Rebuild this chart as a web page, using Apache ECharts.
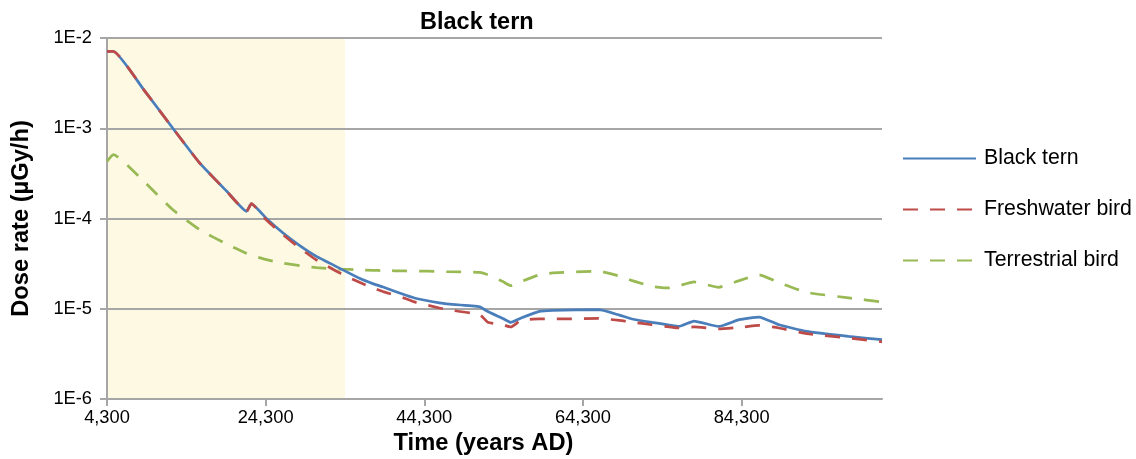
<!DOCTYPE html>
<html>
<head>
<meta charset="utf-8">
<script src="https://cdn.jsdelivr.net/npm/echarts@6/dist/echarts.min.js"></script>
<style>
  html, body { margin: 0; padding: 0; background: #ffffff; }
  #chart { width: 1136px; height: 459px; }
</style>
</head>
<body>
<div id="chart"></div>
<script>
// Sample times (years AD) shared by all three dose-rate series
const years = [4300, 5100, 8900, 12600, 16000, 19400, 21900, 22500, 24400, 26500,
  28600, 30700, 33600, 36200, 37800, 39100, 42000, 43300, 46200, 47100,
  51300, 52300, 54200, 55200, 56500, 58800, 60500, 66300, 68900, 70500,
  73000, 75200, 76400, 78300, 81400, 84000, 86500, 89000, 92500, 97800, 102000];

// Dose rates (µGy/h)
const blackTern = [7.1e-3, 7.1e-3, 2.7e-3, 1.0e-3, 4.1e-4, 2.0e-4, 1.2e-4, 1.46e-4, 1.0e-4, 6.9e-5,
  5.0e-5, 3.8e-5, 2.82e-5, 2.16e-5, 1.9e-5, 1.74e-5, 1.41e-5, 1.3e-5, 1.16e-5, 1.13e-5,
  1.05e-5, 9.3e-6, 7.8e-6, 7.06e-6, 7.9e-6, 9.35e-6, 9.6e-6, 9.75e-6, 8.5e-6, 7.7e-6,
  7.06e-6, 6.6e-6, 6.37e-6, 7.3e-6, 6.37e-6, 7.57e-6, 8.1e-6, 6.65e-6, 5.61e-6, 4.94e-6, 4.54e-6];

const freshwaterBird = [7.1e-3, 7.1e-3, 2.7e-3, 1.0e-3, 4.1e-4, 2.0e-4, 1.2e-4, 1.46e-4, 9.6e-5, 6.6e-5,
  4.7e-5, 3.47e-5, 2.5e-5, 1.95e-5, 1.7e-5, 1.55e-5, 1.29e-5, 1.17e-5, 1.02e-5, 9.8e-6,
  8.6e-6, 7.1e-6, 6.65e-6, 6.28e-6, 7.43e-6, 7.7e-6, 7.7e-6, 7.8e-6, 7.43e-6, 7.1e-6,
  6.65e-6, 6.3e-6, 6.12e-6, 6.28e-6, 5.97e-6, 6.2e-6, 6.54e-6, 6.12e-6, 5.3e-6, 4.74e-6, 4.3e-6];

const terrestrialBird = [4.3e-4, 5.1e-4, 2.6e-4, 1.25e-4, 7.5e-5, 5.2e-5, 4.1e-5, 3.9e-5, 3.5e-5, 3.2e-5,
  3.0e-5, 2.85e-5, 2.75e-5, 2.7e-5, 2.66e-5, 2.65e-5, 2.62e-5, 2.61e-5, 2.6e-5, 2.58e-5,
  2.53e-5, 2.38e-5, 2.0e-5, 1.8e-5, 2.0e-5, 2.38e-5, 2.49e-5, 2.6e-5, 2.3e-5, 2.05e-5,
  1.77e-5, 1.7e-5, 1.8e-5, 1.98e-5, 1.73e-5, 2.05e-5, 2.38e-5, 1.95e-5, 1.52e-5, 1.32e-5, 1.19e-5];

// Period highlighted with a pale band
const highlightStart = 4300;
const highlightEnd = 34300;

// Axis ticks
const xTicks = [4300, 24300, 44300, 64300, 84300];
const xMin = 4300;
const xMax = 102000;
const yMin = 1e-6;
const yMax = 1e-2;

const pairs = (vals) => years.map((t, i) => [t, vals[i]]);

const FONT = 'Liberation Sans, Arial, sans-serif';
const GRAY = '#A6A6A6';
const DASH = [15, 12];

const chart = echarts.init(document.getElementById('chart'), null, { renderer: 'canvas' });

chart.setOption({
  animation: false,
  backgroundColor: '#ffffff',
  title: {
    text: 'Black tern',
    left: 415,
    top: 6,
    textStyle: { fontFamily: FONT, fontSize: 23.5, fontWeight: 'bold', color: '#000000' }
  },
  legend: {
    orient: 'vertical',
    left: 902,
    top: 148,
    padding: 0,
    itemWidth: 73,
    itemHeight: 14,
    itemGap: 30,
    itemStyle: { opacity: 0 },
    textStyle: { fontFamily: FONT, fontSize: 21.3, color: '#000000', lineHeight: 21, padding: [0, 0, 0, 3] },
    data: ['Black tern', 'Freshwater bird', 'Terrestrial bird']
  },
  grid: { left: 107, right: 254, top: 38, bottom: 60, containLabel: false, outerBoundsMode: 'none' },
  xAxis: {
    type: 'value',
    min: xMin,
    max: xMax,
    z: 1.5,
    name: 'Time (years AD)',
    nameLocation: 'middle',
    nameGap: 28,
    nameTextStyle: { fontFamily: FONT, fontSize: 23.7, fontWeight: 'bold', color: '#000000', padding: [0, 22, 0, 0] },
    axisLine: { show: true, lineStyle: { color: GRAY, width: 2 } },
    axisTick: { show: true, length: 7, lineStyle: { color: GRAY, width: 2 }, customValues: xTicks },
    axisLabel: {
      customValues: xTicks,
      margin: 10,
      fontFamily: FONT, fontSize: 18.3, color: '#000000',
      formatter: (v) => v.toLocaleString('en-US')
    },
    splitLine: { show: false }
  },
  yAxis: {
    type: 'log',
    logBase: 10,
    min: yMin,
    max: yMax,
    z: 1.5,
    name: 'Dose rate (µGy/h)',
    nameLocation: 'middle',
    nameGap: 74,
    nameTextStyle: { fontFamily: FONT, fontSize: 23.7, fontWeight: 'bold', color: '#000000' },
    axisLine: { show: true, lineStyle: { color: GRAY, width: 2 } },
    axisTick: { show: true, length: 7, lineStyle: { color: GRAY, width: 2 } },
    minorTick: { show: false },
    axisLabel: {
      margin: 15,
      fontFamily: FONT, fontSize: 18.3, color: '#000000',
      formatter: (v) => '1E' + Math.round(Math.log10(v))
    },
    splitLine: { show: true, lineStyle: { color: GRAY, width: 2 } }
  },
  series: [
    {
      name: 'Black tern',
      type: 'line',
      data: pairs(blackTern),
      showSymbol: false,
      symbol: 'none',
      smooth: 0.15,
      z: 4,
      lineStyle: { color: '#4A7EBB', width: 2.75, type: 'solid' },
      itemStyle: { color: '#4A7EBB' },
      markArea: {
        silent: true,
        itemStyle: { color: '#FDF9E3' },
        data: [[{ xAxis: highlightStart }, { xAxis: highlightEnd }]]
      }
    },
    {
      name: 'Freshwater bird',
      type: 'line',
      data: pairs(freshwaterBird),
      showSymbol: false,
      symbol: 'none',
      smooth: 0.15,
      z: 5,
      lineStyle: { color: '#BE4B48', width: 2.75, type: DASH },
      itemStyle: { color: '#BE4B48' }
    },
    {
      name: 'Terrestrial bird',
      type: 'line',
      data: pairs(terrestrialBird),
      showSymbol: false,
      symbol: 'none',
      smooth: 0.15,
      z: 3,
      lineStyle: { color: '#98B954', width: 2.75, type: DASH },
      itemStyle: { color: '#98B954' }
    }
  ]
});
</script>
</body>
</html>
